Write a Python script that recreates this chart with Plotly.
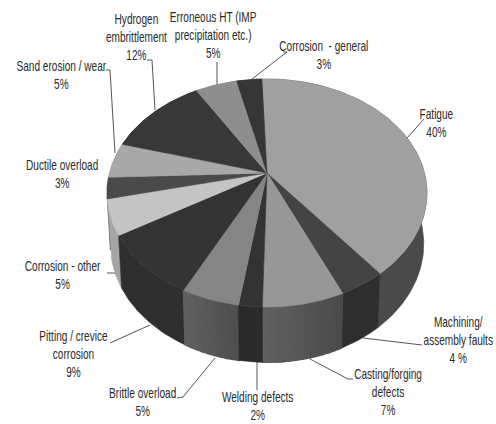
import math
import plotly.graph_objects as go

# Failure causes, clockwise from twelve o'clock
causes = ["Fatigue", "Machining/<br>assembly faults", "Casting/forging<br>defects", "Welding defects",
          "Brittle overload", "Pitting / crevice<br>corrosion", "Corrosion - other", "Ductile overload",
          "Sand erosion / wear", "Hydrogen<br>embrittlement", "Erroneous HT (IMP<br>precipitation etc.)",
          "Corrosion  - general"]
shares = [40, 4, 7, 2, 5, 9, 5, 3, 5, 12, 5, 3]
share_text = ["40%", "4 %", "7%", "2%", "5%", "9%", "5%", "3%", "5%", "12%", "5%", "3%"]

top_grey = [160, 68, 151, 51, 133, 51, 196, 74, 168, 56, 142, 54]
rim_grey_start = [74, 46, 96, 42, 96, 46, 165, 60, 120, 50, 100, 50]
rim_grey_end = [74, 46, 74, 42, 78, 46, 165, 60, 120, 50, 100, 50]

# Label anchors: centre x, centre y of the first line
label_x = [436, 458, 388, 257, 142, 73, 62, 62, 61, 136, 213, 324]
label_y = [115, 323, 375, 398, 394, 337, 267, 166, 67, 20, 18, 47]

# Leader polylines as (xs, ys) in pixel space
leaders = [
    ([424, 407], [119, 138]),
    ([422, 363], [345, 338]),
    ([353, 348, 310], [379, 379, 359]),
    ([257, 257], [390, 360]),
    ([177, 183, 215], [398, 397, 358]),
    ([110, 150], [343, 325]),
    ([107, 117], [273, 273]),
    ([106, 110, 115], [70, 70, 153]),
    ([147, 152, 155], [60, 60, 110]),
    ([217, 217], [62, 85]),
    ([283, 287, 252], [52, 52, 79]),
]

# Perspective disc parameters (pixels)
CX, CY = 267.0, 173.0
RX, RY = 157.5, 110.5
TILT = 0.1754
DROP = 50.0
RIM_SCALE_X, RIM_SCALE_Y = 0.98, 1.04
START_DEG = -2.2
TEXT_SQUEEZE = 0.72


def top_point(deg):
    a = math.radians(deg)
    u, v = math.sin(a), math.cos(a)
    w = 1 + TILT * v
    return CX + RX * u / w, CY - RY * v / w


def rim_point(deg):
    x, y = top_point(deg)
    return CX + (x - CX) * RIM_SCALE_X, CY + DROP + (y - CY) * RIM_SCALE_Y


def arc(func, a0, a1, step=1.0):
    n = max(2, int(abs(a1 - a0) / step) + 1)
    return [func(a0 + (a1 - a0) * i / (n - 1)) for i in range(n)]


def grey(g):
    g = int(round(g))
    return f"rgb({g},{g},{g})"


def polygon(points, color, edge=0.6):
    xs = [p[0] for p in points] + [points[0][0]]
    ys = [p[1] for p in points] + [points[0][1]]
    return go.Scatter(x=xs, y=ys, mode="lines", fill="toself", fillcolor=color,
                      line=dict(color=color, width=edge), hoverinfo="skip", showlegend=False)


fig = go.Figure()

for xs, ys in leaders:
    fig.add_trace(go.Scatter(x=xs, y=ys, mode="lines", line=dict(color="#555555", width=1),
                             hoverinfo="skip", showlegend=False))

# Wedge angle spans from the shares
total = sum(shares)
spans = []
running = START_DEG
for s in shares:
    spans.append((running, running + 360.0 * s / total))
    running = spans[-1][1]

# Rim strips go on first, back to front, so the disc top covers the far side
order = sorted(range(len(shares)), key=lambda i: math.cos(math.radians(sum(spans[i]) / 2)), reverse=True)
for i in order:
    a0, a1 = spans[i]
    shaded = rim_grey_start[i] != rim_grey_end[i]
    strips = max(1, int((a1 - a0) / 2)) if shaded else 1
    for k in range(strips):
        s0 = a0 + (a1 - a0) * k / strips
        s1 = a0 + (a1 - a0) * (k + 1) / strips
        # shading darkens towards the right of the front face, i.e. towards smaller angles
        t = 1 - (k + 0.5) / strips
        g = rim_grey_start[i] + (rim_grey_end[i] - rim_grey_start[i]) * t
        pts = arc(top_point, s0, s1) + arc(rim_point, s1, s0)
        fig.add_trace(polygon(pts, grey(g), edge=1.4 if shaded else 0.6))

# Disc top wedges
for i, (a0, a1) in enumerate(spans):
    pts = [(CX, CY)] + arc(top_point, a0, a1)
    fig.add_trace(polygon(pts, grey(top_grey[i])))

# Category and share labels
for name, pct, x, y in zip(causes, share_text, label_x, label_y):
    fig.add_annotation(x=x, y=y - 9, xref="x", yref="y", text=f"{name}<br>{pct}", showarrow=False,
                       xanchor="center", yanchor="top", align="center", borderpad=0, borderwidth=0,
                       font=dict(family="Liberation Sans", size=14, color="#2a2a2a"))

fig.update_layout(
    width=496, height=424, margin=dict(l=0, r=0, t=0, b=0),
    paper_bgcolor="white", plot_bgcolor="white", showlegend=False,
    xaxis=dict(range=[0, 496], visible=False, fixedrange=True),
    yaxis=dict(range=[424, 0], visible=False, fixedrange=True),
)

# Condensed lettering: no narrow face is available, so squeeze each label about its own centre
squeeze_js = """
document.querySelectorAll('.annotation-text').forEach(function (el) {
  var box = el.getBBox();
  var mid = box.x + box.width / 2;
  el.setAttribute('transform',
    'translate(' + mid + ',0) scale(%s,1) translate(' + (-mid) + ',0)');
});
""" % TEXT_SQUEEZE

fig.write_html("out.html", config={"displayModeBar": False}, post_script=squeeze_js)
